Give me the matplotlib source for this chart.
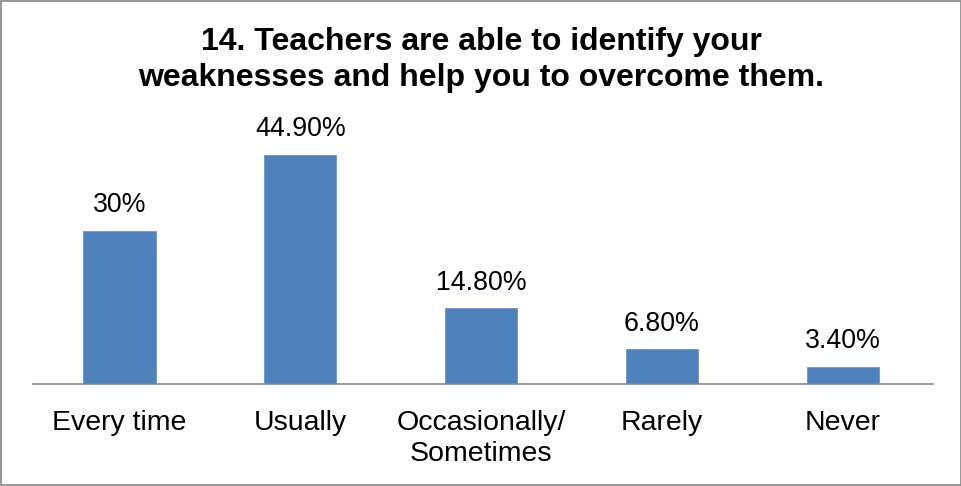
import numpy as np
import matplotlib.pyplot as plt

categories = ['Every time', 'Usually', 'Occasionally/\nSometimes', 'Rarely', 'Never']
values = [30, 44.9, 14.8, 6.8, 3.4]
labels = ['30%', '44.90%', '14.80%', '6.80%', '3.40%']

plt.rcParams['font.family'] = ['Liberation Sans', 'DejaVu Sans']

fig = plt.figure(figsize=(9.62, 4.86), dpi=100)
ax = fig.add_axes([0.034, 0.21, 0.936, 0.525])

x = np.arange(len(categories))
ax.bar(x, values, width=0.4, color='#4f81bd', edgecolor='#6a96c8', linewidth=0.6)

for xi, v, lab in zip(x, values, labels):
    ax.annotate(lab, (xi, v), xytext=(0, 9), textcoords='offset points',
                ha='center', va='bottom', fontsize=19.3)

ax.set_xlim(-0.48, 4.5)
ax.set_ylim(0, 50)
ax.set_xticks(x)
ax.set_xticklabels(categories, fontsize=20.5, linespacing=1.25)
ax.tick_params(axis='x', length=0, pad=19)
ax.set_yticks([])
for s in ['top', 'right', 'left']:
    ax.spines[s].set_visible(False)
ax.spines['bottom'].set_color('#868686')
ax.spines['bottom'].set_linewidth(1.2)

fig.text(0.5, 0.877, '14. Teachers are able to identify your\nweaknesses and help you to overcome them.',
         ha='center', va='center', fontsize=23, fontweight='bold', linespacing=1.27)

fig.patches.append(plt.Rectangle((0.0015, 0.002), 0.997, 0.996, transform=fig.transFigure,
                                 fill=False, edgecolor='#868686', linewidth=1.2))

fig.savefig('out.png', dpi=100)
